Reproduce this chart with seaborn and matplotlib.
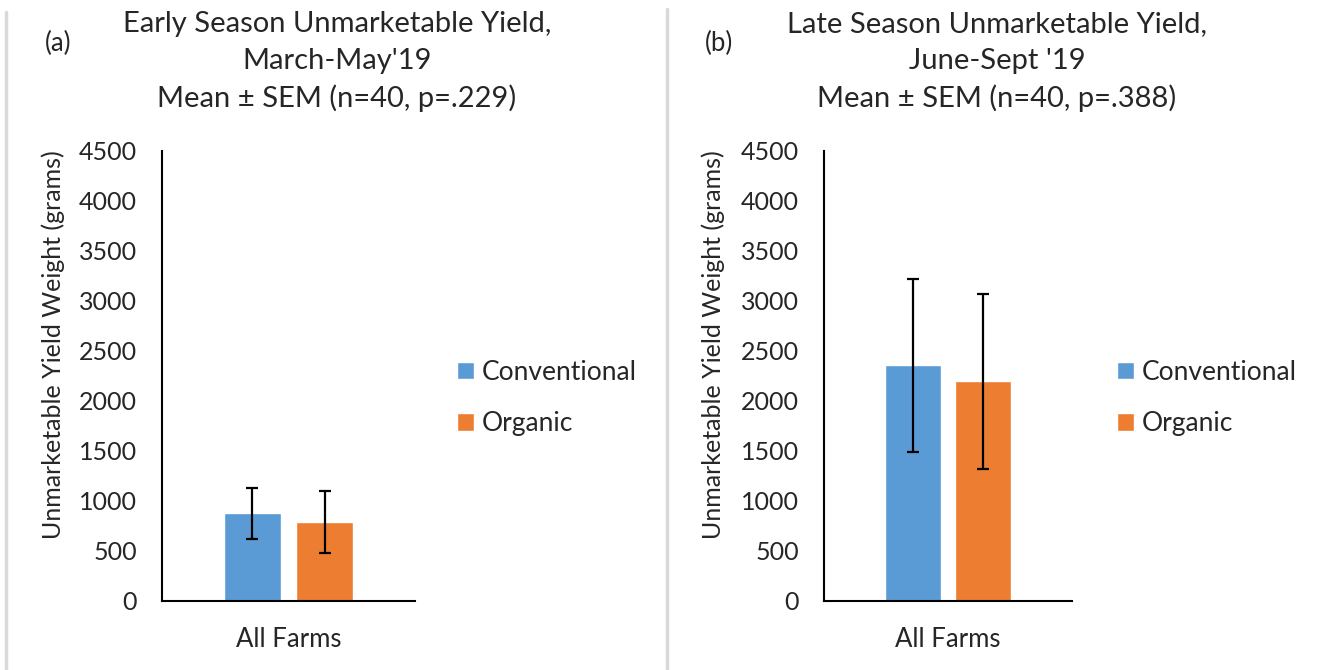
import pandas as pd
import matplotlib
matplotlib.use('Agg')
import matplotlib.pyplot as plt
from matplotlib.lines import Line2D
import seaborn as sns

# values (grams)
systems = ['Conventional', 'Organic']
farm = 'All Farms'
early_mean = [880, 790]
early_sem = [255, 307]
late_mean = [2357, 2197]
late_sem = [865, 872]

titles = ["Early Season Unmarketable Yield,\nMarch-May'19\nMean \u00b1 SEM (n=40, p=.229)",
          "Late Season Unmarketable Yield,\nJune-Sept '19\nMean \u00b1 SEM (n=40, p=.388)"]
panel_tags = ['(a)', '(b)']
yticks = [0, 500, 1000, 1500, 2000, 2500, 3000, 3500, 4000, 4500]

colors = ['#5B9BD5', '#ED7D31']

sns.set_style('white')
plt.rcParams['font.family'] = ['Lato', 'DejaVu Sans']

fig = plt.figure(figsize=(13.21, 6.70), dpi=100)

W, H = 1321, 670
axes_pos = [[162 / W, 69 / H, 253 / W, 450 / H],
            [824 / W, 69 / H, 248 / W, 450 / H]]
offset = [0, 660]

for i, (means, sems) in enumerate([(early_mean, early_sem), (late_mean, late_sem)]):
    dx = offset[i]
    ax = fig.add_axes(axes_pos[i])
    df = pd.DataFrame({'farm': [farm] * 2, 'system': systems, 'mean': means})
    sns.barplot(data=df, x='farm', y='mean', hue='system', palette=colors,
                saturation=1, width=0.57, gap=0.21, errorbar=None, ax=ax)
    centers = [p.get_x() + p.get_width() / 2 for p in ax.patches[:2]]
    ax.errorbar(centers, means, yerr=sems, fmt='none', ecolor='black',
                elinewidth=1.6, capsize=4, capthick=1.6)
    ax.set_xlim(-0.5, 0.5)
    ax.set_ylim(0, 4500)
    ax.set_yticks(yticks)
    ax.set_yticklabels([str(t) for t in yticks], fontsize=18)
    ax.tick_params(axis='y', direction='in', length=6.5, width=1.3, color='black', pad=18)
    ax.tick_params(axis='x', length=0, labelsize=18.5, pad=19)
    ax.set_xlabel('')
    ax.set_ylabel('')
    sns.despine(ax=ax)
    for s in ['left', 'bottom']:
        ax.spines[s].set_linewidth(1.5)
        ax.spines[s].set_color('black')

    fig.text((53 + dx) / W, 1 - 345 / H, 'Unmarketable Yield Weight (grams)',
             rotation=90, ha='center', va='center', fontsize=18)
    fig.text((337 + dx) / W, 1 - 11 / H, titles[i], ha='center', va='top',
             fontsize=21, linespacing=1.5)
    fig.text((45 + dx) / W, 1 - 43 / H, panel_tags[i], fontsize=18.5, va='center')

    handles, labels = ax.get_legend_handles_labels()
    ax.legend(handles, labels, loc='center left',
              bbox_to_anchor=((433 + dx) / W, 1 - 398 / H), bbox_transform=fig.transFigure,
              frameon=False, fontsize=19, handlelength=0.65, handleheight=0.65,
              handletextpad=0.3, labelspacing=1.0)

# light grey separators between panels
for x, top in [(6 / W, 12 / H), (667 / W, 9 / H)]:
    fig.add_artist(Line2D([x, x], [0, 1 - top], color='#d9d9d9', lw=2.5,
                          transform=fig.transFigure))

fig.savefig('out.png', dpi=100, facecolor='white')
